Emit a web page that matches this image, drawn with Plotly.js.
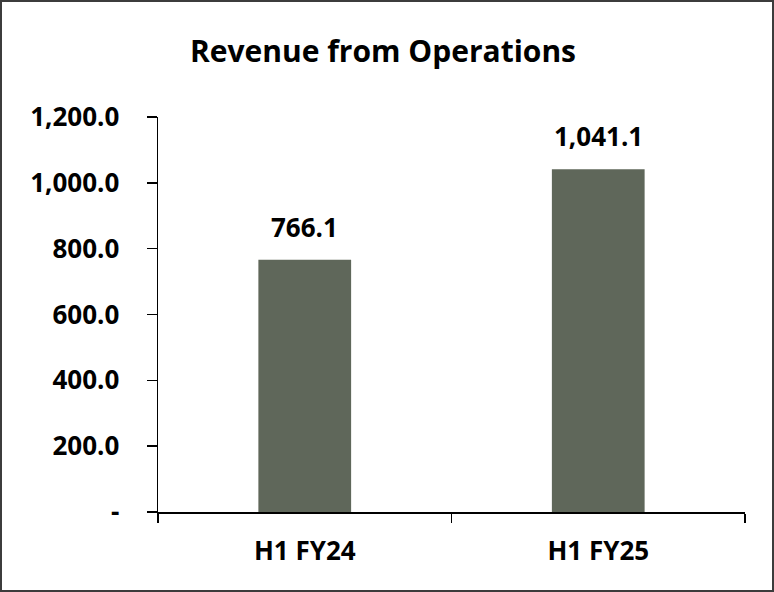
<!DOCTYPE html>
<html>
<head>
<meta charset="utf-8">
<script src="https://cdn.plot.ly/plotly-3.0.1.min.js"></script>
<style>
  html, body { margin: 0; padding: 0; background: #ffffff; }
  #frame { width: 774px; height: 592px; box-sizing: border-box; border: 2px solid #3c3c3c; background: #fff; }
  #chart { width: 770px; height: 588px; }
</style>
</head>
<body>
<div id="frame"><div id="chart"></div></div>
<script>
const categories = ["H1 FY24", "H1 FY25"];
const revenue = [766.1, 1041.1];
const valueLabels = ["766.1", "1,041.1"];
const yTickVals = [0, 200, 400, 600, 800, 1000, 1200];
const yTickText = ["-", "200.0", "400.0", "600.0", "800.0", "1,000.0", "1,200.0"];

const FONT = "'Open Sans', 'Noto Sans', sans-serif";

const trace = {
  type: "bar",
  x: categories,
  y: revenue,
  marker: { color: "#5f675a", line: { width: 0 } },
  hoverinfo: "skip"
};

const annotations = categories.map((c, i) => ({
  x: c, y: revenue[i], xref: "x", yref: "y",
  text: "<b>" + valueLabels[i] + "</b>",
  showarrow: false, yanchor: "bottom", yshift: 13,
  font: { family: FONT, size: 26, color: "#000" }
}));

const layout = {
  width: 770, height: 588,
  margin: { l: 156, r: 27, t: 115, b: 78 },
  paper_bgcolor: "#fff", plot_bgcolor: "#fff",
  showlegend: false,
  bargap: 0.684,
  title: {
    text: "<b>Revenue from Operations</b>",
    font: { family: FONT, size: 30, color: "#000" },
    x: 381 / 770, xref: "container", xanchor: "center",
    y: 1 - 49 / 588, yref: "container", yanchor: "middle"
  },
  xaxis: {
    type: "category",
    showline: true, linecolor: "#000", linewidth: 1.5,
    ticks: "outside", tickson: "boundaries", ticklen: 9, tickcolor: "#000", tickwidth: 1.5,
    tickfont: { family: FONT, size: 26, color: "#000" },
    ticklabelstandoff: 15,
    showgrid: false, zeroline: false, fixedrange: true,
    tickprefix: "<b>", ticksuffix: "</b>"
  },
  yaxis: {
    range: [0, 1200],
    showline: true, linecolor: "#000", linewidth: 1.5,
    ticks: "outside", ticklen: 10, tickcolor: "#000", tickwidth: 1.5,
    tickvals: yTickVals, ticktext: yTickText.map(t => "<b>" + t + "</b>"),
    tickfont: { family: FONT, size: 26, color: "#000" },
    ticklabelstandoff: 22,
    showgrid: false, zeroline: false, fixedrange: true
  },
  annotations: annotations
};

Plotly.newPlot("chart", [trace], layout, { displayModeBar: false, staticPlot: true });
</script>
</body>
</html>
